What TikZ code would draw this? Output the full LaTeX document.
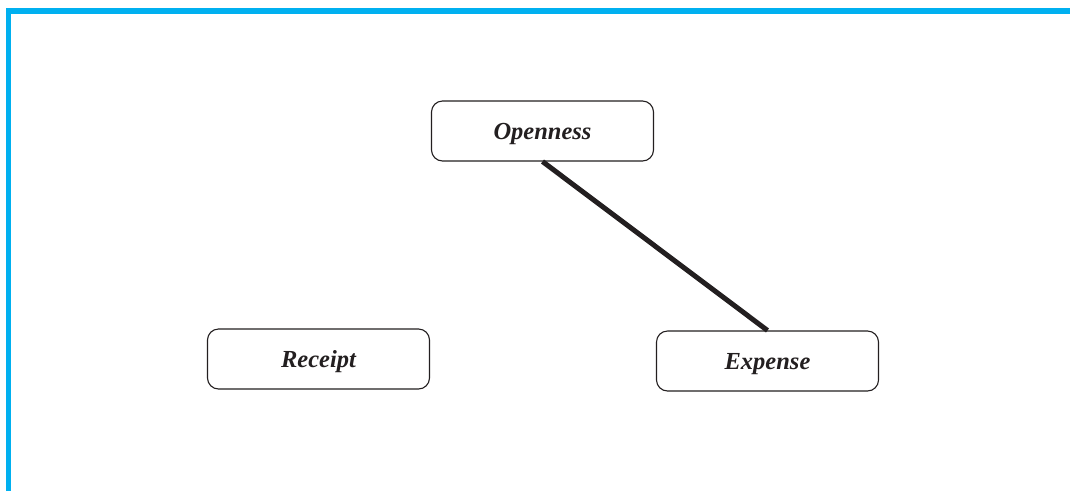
\documentclass[tikz,border=0pt]{standalone}
\usepackage{fontspec}
\setmainfont{Liberation Serif}
\definecolor{frameblue}{RGB}{0,176,240}
\definecolor{ink}{RGB}{35,31,32}
\begin{document}
\begin{tikzpicture}[x=1pt,y=-1pt,
  termbox/.style={draw=ink, line width=1.1pt, rounded corners=11pt, fill=white,
    minimum width=222pt, minimum height=60pt, inner sep=0pt,
    text height=17pt, text depth=0pt,
    font=\fontsize{24.5}{28}\selectfont\bfseries\itshape, text=ink},
  link/.style={draw=ink, line width=5pt}]
\useasboundingbox (0,0) rectangle (1070,491);
% frame along the top and left edge
\draw[frameblue, line width=5.5pt] (8.5,491) -- (8.5,11) -- (1070,11);
% terms
\node[termbox] (open) at (542.5,131) {Openness};
\node[termbox] (rec) at (318.5,359) {Receipt};
\node[termbox] (exp) at (767.5,361) {Expense};
% relation
\draw[link] (open.south) -- (exp.north);
\end{tikzpicture}
\end{document}
